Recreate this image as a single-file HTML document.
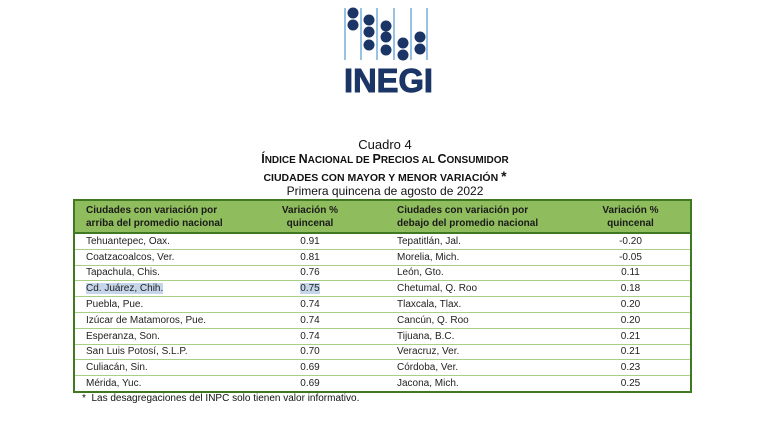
<!DOCTYPE html>
<html><head><meta charset="utf-8"><style>
body{margin:0;width:770px;height:423px;background:#fff;position:relative;font-family:"Liberation Sans",sans-serif;color:#111;overflow:hidden}
.t{position:absolute;left:0;width:770px;text-align:center;white-space:nowrap}
table{position:absolute;left:73px;top:199px;width:619px;border-collapse:collapse;border:2px solid #3f7a22;font-size:10px;table-layout:fixed}
th{background:#8fbc5c;font-weight:bold;height:31px;padding:0;line-height:13px;border-bottom:2px solid #3f7a22;color:#1a1a1a}
td{height:14.8px;padding:0;border-top:1px solid #a8cf84;line-height:14px;color:#222;vertical-align:bottom}
.l{text-align:left;padding-left:11px}
.c{text-align:center}
</style></head><body>
<svg style="position:absolute;left:0;top:0" width="770" height="100">
<g stroke="#7fb2de" stroke-width="1.6">
<line x1="345" y1="8" x2="345" y2="60"/><line x1="361" y1="8" x2="361" y2="60"/><line x1="377" y1="8" x2="377" y2="60"/><line x1="394" y1="8" x2="394" y2="60"/><line x1="411" y1="8" x2="411" y2="60"/><line x1="427" y1="8" x2="427" y2="60"/>
</g>
<g fill="#1b3566">
<circle cx="353" cy="13" r="5.5"/><circle cx="353" cy="25" r="5.5"/>
<circle cx="369" cy="20" r="5.5"/><circle cx="369" cy="32" r="5.5"/><circle cx="369" cy="45" r="5.5"/>
<circle cx="386" cy="26" r="5.5"/><circle cx="386" cy="37" r="5.5"/><circle cx="386" cy="50" r="5.5"/>
<circle cx="403" cy="43" r="5.5"/><circle cx="403" cy="55" r="5.5"/>
<circle cx="420" cy="37" r="5.5"/><circle cx="420" cy="49" r="5.5"/>
<text x="344" y="92" font-family="Liberation Sans" font-weight="bold" font-size="33" stroke="#1b3566" stroke-width="1" textLength="89" lengthAdjust="spacingAndGlyphs">INEGI</text>
</g></svg>
<div class="t" style="top:137px;font-size:13px">Cuadro 4</div>
<div class="t" style="top:152px;font-size:12.5px;font-weight:bold">Í<span style="font-size:10px">NDICE </span>N<span style="font-size:10px">ACIONAL DE </span>P<span style="font-size:10px">RECIOS AL </span>C<span style="font-size:10px">ONSUMIDOR</span></div>
<div class="t" style="top:168px;font-size:10.5px;font-weight:bold">CIUDADES CON MAYOR Y MENOR VARIACIÓN <span style="font-size:14px">*</span></div>
<div class="t" style="top:184px;font-size:12px">Primera quincena de agosto de 2022</div>
<table>
<colgroup><col style="width:160px"><col style="width:152px"><col style="width:185px"><col></colgroup>
<tr><th class="l">Ciudades con variación por<br>arriba del promedio nacional</th><th class="c">Variación %<br>quincenal</th><th class="l">Ciudades con variación por<br>debajo del promedio nacional</th><th class="c">Variación %<br>quincenal</th></tr>
<tr><td class="l">Tehuantepec, Oax.</td><td class="c">0.91</td><td class="l">Tepatitlán, Jal.</td><td class="c">-0.20</td></tr>
<tr><td class="l">Coatzacoalcos, Ver.</td><td class="c">0.81</td><td class="l">Morelia, Mich.</td><td class="c">-0.05</td></tr>
<tr><td class="l">Tapachula, Chis.</td><td class="c">0.76</td><td class="l">León, Gto.</td><td class="c">0.11</td></tr>
<tr><td class="l"><span style="background:#c5d6ea">Cd. Juárez, Chih.</span></td><td class="c"><span style="background:#c5d6ea">0.75</span></td><td class="l">Chetumal, Q. Roo</td><td class="c">0.18</td></tr>
<tr><td class="l">Puebla, Pue.</td><td class="c">0.74</td><td class="l">Tlaxcala, Tlax.</td><td class="c">0.20</td></tr>
<tr><td class="l">Izúcar de Matamoros, Pue.</td><td class="c">0.74</td><td class="l">Cancún, Q. Roo</td><td class="c">0.20</td></tr>
<tr><td class="l">Esperanza, Son.</td><td class="c">0.74</td><td class="l">Tijuana, B.C.</td><td class="c">0.21</td></tr>
<tr><td class="l">San Luis Potosí, S.L.P.</td><td class="c">0.70</td><td class="l">Veracruz, Ver.</td><td class="c">0.21</td></tr>
<tr><td class="l">Culiacán, Sin.</td><td class="c">0.69</td><td class="l">Córdoba, Ver.</td><td class="c">0.23</td></tr>
<tr><td class="l">Mérida, Yuc.</td><td class="c">0.69</td><td class="l">Jacona, Mich.</td><td class="c">0.25</td></tr>
</table>
<div style="position:absolute;left:82px;top:393px;font-size:10px;white-space:nowrap">*&nbsp; Las desagregaciones del INPC solo tienen valor informativo.</div>
</body></html>
